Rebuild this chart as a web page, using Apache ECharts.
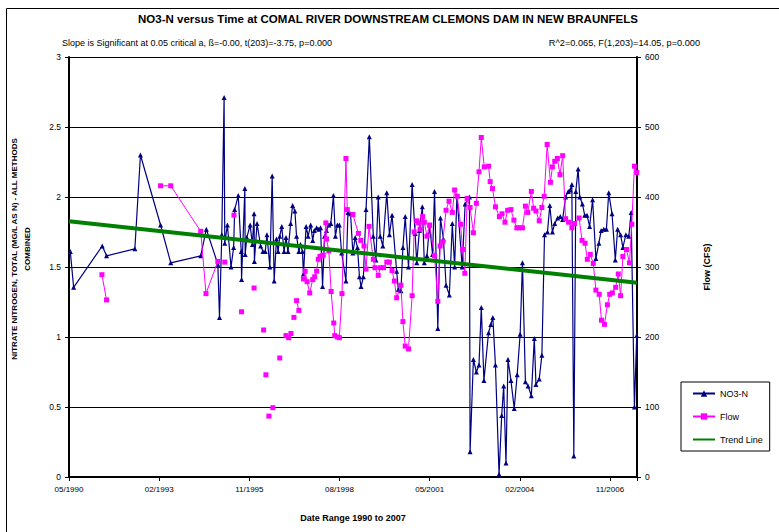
<!DOCTYPE html>
<html><head><meta charset="utf-8">
<script src="https://cdn.jsdelivr.net/npm/echarts@6/dist/echarts.min.js"></script>
<style>html,body{margin:0;padding:0;background:#fff}#c{width:779px;height:532px}</style>
</head><body><div id="c"></div>
<script>
// ---- data (dates as decimal years) ----
const no3Years = [1990.44,1990.54,1991.41,1991.54,1992.40,1992.57,1993.18,1993.49,1994.40,1994.57,
1994.92,1994.97,1995.04,1995.11,1995.13,1995.21,1995.32,1995.40,1995.43,1995.54,
1995.63,1995.64,1995.74,1995.75,1995.80,1995.90,1995.97,1996.02,1996.03,1996.11,
1996.22,1996.29,1996.36,1996.41,1996.50,1996.57,1996.63,1996.70,1996.75,1996.80,
1996.86,1996.93,1996.99,1997.05,1997.13,1997.19,1997.26,1997.31,1997.38,1997.43,
1997.49,1997.52,1997.60,1997.66,1997.74,1997.80,1997.85,1997.92,1997.98,1998.04,
1998.10,1998.16,1998.22,1998.29,1998.35,1998.43,1998.49,1998.55,1998.61,1998.68,
1998.81,1998.87,1998.95,1999.02,1999.09,1999.16,1999.22,1999.27,1999.34,1999.42,
1999.52,1999.64,1999.72,1999.79,1999.85,1999.93,2000.05,2000.13,2000.21,2000.35,
2000.40,2000.48,2000.54,2000.61,2000.71,2000.82,2000.91,2000.96,2001.04,2001.13,
2001.19,2001.27,2001.35,2001.44,2001.50,2001.60,2001.68,2001.77,2001.85,2001.95,
2002.04,2002.11,2002.18,2002.34,2002.43,2002.56,2002.58,2002.68,2002.77,2002.85,
2002.92,2003.00,2003.14,2003.21,2003.27,2003.35,2003.46,2003.54,2003.60,2003.67,
2003.73,2003.82,2003.92,2004.01,2004.10,2004.17,2004.26,2004.34,2004.44,2004.53,
2004.58,2004.68,2004.76,2004.84,2004.93,2005.00,2005.08,2005.15,2005.24,2005.32,
2005.39,2005.48,2005.56,2005.62,2005.67,2005.73,2005.79,2005.86,2005.91,2005.99,
2006.06,2006.13,2006.21,2006.30,2006.40,2006.49,2006.56,2006.64,2006.72,2006.79,
2006.89,2006.99,2007.06,2007.15,2007.22,2007.31,2007.40,2007.47,2007.57,2007.64];
const no3Values = [1.61,1.355,1.65,1.58,1.63,2.30,1.80,1.53,1.58,1.77,
1.52,1.14,1.73,2.71,1.67,1.80,1.50,1.64,1.91,2.01,
1.61,1.41,2.06,1.59,1.71,1.80,1.66,1.88,1.54,1.81,
1.65,1.61,1.61,1.73,1.50,2.15,1.40,1.70,1.61,1.72,
1.79,1.61,1.71,1.61,1.81,1.94,1.90,1.72,1.61,1.66,
1.61,1.45,1.79,1.72,1.80,1.69,1.76,1.78,1.77,1.78,
1.36,1.72,1.76,1.80,1.81,2.01,1.72,1.80,1.80,1.60,
1.40,1.89,1.88,1.60,1.71,1.64,1.43,1.36,1.43,1.91,
2.43,1.72,1.55,2.00,1.72,1.65,2.03,1.73,1.87,1.47,
1.34,1.33,1.64,1.86,1.50,2.09,1.74,1.53,1.76,1.93,
1.53,1.58,1.80,1.59,2.04,1.06,1.85,1.70,1.37,1.30,
1.81,1.50,2.01,1.50,1.95,2.00,0.18,0.84,0.75,0.80,
1.21,0.69,1.03,1.09,1.14,0.80,0.02,0.44,0.65,0.10,
0.84,0.69,0.49,0.73,1.02,1.53,0.68,0.65,0.58,0.99,
0.66,0.70,0.87,1.73,1.75,1.94,1.75,1.81,1.85,1.86,
1.84,2.00,2.04,2.05,2.09,0.15,2.04,2.20,2.00,1.95,
1.87,1.87,1.79,1.98,1.56,1.67,1.76,1.77,1.77,2.03,
1.88,1.55,1.77,1.73,1.64,1.73,1.72,1.89,0.50,1.01];

// null = break in the Flow line
const flowYears = [1991.40,1991.54,null,1993.18,1993.49,1994.40,1994.56,1994.92,null,1995.13,null,
1995.41,null,1995.64,null,1996.02,null,1996.31,null,1996.38,null,1996.47,null,1996.59,null,
1996.80,null,1996.99,1997.07,1997.14,null,1997.23,null,1997.31,1997.38,null,
1997.52,1997.57,1997.63,1997.71,1997.80,1997.86,1997.92,1997.97,1998.02,1998.08,
1998.12,1998.20,1998.22,1998.29,1998.36,1998.44,1998.47,1998.55,1998.61,1998.69,
1998.81,1998.85,1999.02,1999.19,1999.26,1999.36,1999.42,1999.51,1999.64,1999.69,
1999.79,1999.85,1999.95,2000.05,2000.13,2000.21,2000.28,2000.35,2000.48,2000.54,
2000.61,2000.71,2000.82,2000.88,2000.96,2001.02,2001.06,2001.14,2001.19,2001.27,
2001.35,2001.50,2001.60,2001.67,2001.75,2001.85,2001.94,2002.04,2002.11,2002.19,
2002.29,2002.35,2002.42,2002.49,2002.58,2002.68,2002.77,2002.85,2002.92,2003.01,
2003.14,2003.19,2003.26,2003.35,2003.47,2003.55,2003.64,2003.72,2003.82,2003.91,
2004.00,2004.07,2004.17,2004.26,2004.33,2004.44,2004.51,2004.58,2004.68,2004.76,
2004.83,2004.92,2005.02,2005.08,2005.15,2005.23,2005.31,2005.39,2005.48,2005.57,
2005.67,2005.75,2005.89,2005.98,2006.07,2006.14,2006.23,2006.32,2006.40,2006.50,
2006.57,2006.66,2006.75,2006.82,2006.90,2007.00,2007.08,2007.15,2007.22,2007.33,
2007.42,2007.49,2007.57,2007.64];
const flowValues = [289,253,null,416,416,351,262,308,null,307,null,
374,null,236,null,270,null,210,null,146,null,87,null,99,null,
170,null,202,199,205,null,228,null,252,238,null,
283,294,279,263,282,286,294,311,315,316,
317,363,340,323,265,220,202,200,199,262,
455,382,375,348,338,330,297,358,311,299,
288,299,299,307,307,295,280,256,274,222,
187,183,259,350,366,363,354,372,364,344,
360,316,251,330,336,381,394,378,410,401,
361,325,291,398,385,349,391,436,485,443,
444,422,412,386,372,376,364,381,382,367,
356,356,356,387,378,408,384,380,366,385,
401,475,421,443,451,455,432,459,369,364,
356,362,370,338,334,311,318,305,267,261,
224,218,246,261,263,271,290,259,315,325,
306,361,444,435];

const trendYears = [1990.40, 2007.648];
const trendValues = [1.827, 1.387];

const xTickLabels = ['05/1990','02/1993','11/1995','08/1998','05/2001','02/2004','11/2006'];
const leftTicks = {min: 0, max: 3, step: 0.5};
const rightTicks = {min: 0, max: 600, step: 100};

// ---- conversion: decimal year -> days since the axis origin (27 May 1990) ----
const ORIGIN_YEAR = 1990.4, DAYS_PER_YEAR = 365.25, X_STEP = 1000, X_MAX = 6300;
const toDay = y => (y - ORIGIN_YEAR) * DAYS_PER_YEAR;
const pairs = (xs, vs) => xs.map((y, i) => (y === null || vs[i] === null) ? [null, null] : [toDay(y), vs[i]]);

const FONT = '"Liberation Sans", Arial, Helvetica, sans-serif';
const chart = echarts.init(document.getElementById('c'), null, {renderer: 'svg', width: 779, height: 532});

chart.setOption({
  animation: false,
  backgroundColor: '#fff',
  textStyle: {fontFamily: FONT, color: '#000'},
  title: {
    text: 'NO3-N versus Time at COMAL RIVER DOWNSTREAM CLEMONS DAM IN NEW BRAUNFELS',
    left: 383, top: 8, textAlign: 'center',
    textStyle: {fontFamily: FONT, fontSize: 11.5, fontWeight: 'bold', color: '#000'}
  },
  grid: {left: 69, right: 142, top: 57, bottom: 55, containLabel: false},
  legend: {
    orient: 'vertical', left: 681, top: 382,
    padding: [7, 7, 7, 11], itemGap: 14, itemWidth: 22, itemHeight: 8,
    borderColor: '#000', borderWidth: 1, backgroundColor: '#fff',
    textStyle: {fontFamily: FONT, fontSize: 9, color: '#000', lineHeight: 8},
    data: ['NO3-N', 'Flow', {name: 'Trend Line', itemStyle: {opacity: 0}}]
  },
  xAxis: {
    type: 'value', min: 0, max: X_MAX, interval: X_STEP,
    axisLine: {lineStyle: {color: '#000', width: 2}},
    axisTick: {length: 4, lineStyle: {color: '#000'}},
    axisLabel: {
      color: '#000', fontSize: 8, fontFamily: FONT, margin: 8,
      formatter: v => (v % X_STEP === 0 && xTickLabels[v / X_STEP] !== undefined) ? xTickLabels[v / X_STEP] : ''
    },
    splitLine: {show: false}
  },
  yAxis: [{
    type: 'value', min: leftTicks.min, max: leftTicks.max, interval: leftTicks.step,
    axisLine: {show: true, lineStyle: {color: '#000', width: 2}},
    axisTick: {show: true, length: 4, lineStyle: {color: '#000'}},
    axisLabel: {color: '#000', fontSize: 8.5, fontFamily: FONT, margin: 8},
    splitLine: {show: true, lineStyle: {color: '#000', width: 1}}
  }, {
    type: 'value', position: 'right', min: rightTicks.min, max: rightTicks.max, interval: rightTicks.step,
    axisLine: {show: true, lineStyle: {color: '#000', width: 2}},
    axisTick: {show: true, length: 4, lineStyle: {color: '#000'}},
    axisLabel: {color: '#000', fontSize: 8.5, fontFamily: FONT, margin: 8},
    splitLine: {show: false}
  }],
  series: [{
    name: 'NO3-N', type: 'line', yAxisIndex: 0,
    data: pairs(no3Years, no3Values),
    symbol: 'triangle', symbolSize: 5, showSymbol: true,
    lineStyle: {color: '#000080', width: 1.2},
    itemStyle: {color: '#000080'},
    z: 2
  }, {
    name: 'Flow', type: 'line', yAxisIndex: 1,
    data: pairs(flowYears, flowValues), connectNulls: false,
    symbol: 'rect', symbolSize: 5, showSymbol: true,
    lineStyle: {color: '#FF00FF', width: 1},
    itemStyle: {color: '#FF00FF'},
    z: 3
  }, {
    name: 'Trend Line', type: 'line', yAxisIndex: 0,
    data: pairs(trendYears, trendValues),
    symbol: 'none',
    lineStyle: {color: '#008000', width: 4},
    itemStyle: {color: '#008000'},
    z: 4
  }],
  graphic: [
    {type: 'rect', silent: true, z: -10, shape: {x: 6.5, y: 8.5, width: 800, height: 600},
     style: {fill: 'none', stroke: '#000', lineWidth: 1}},
    {type: 'text', x: 62, y: 43, style: {text: 'Slope is Significant at 0.05 critical a, ß=-0.00, t(203)=-3.75, p=0.000',
     fontFamily: FONT, fontSize: 9, fill: '#000', textAlign: 'left', textVerticalAlign: 'middle', align: 'left', verticalAlign: 'middle'}},
    {type: 'text', x: 700, y: 43, style: {text: 'R^2=0.065, F(1,203)=14.05, p=0.000',
     fontFamily: FONT, fontSize: 9.2, fill: '#000', textAlign: 'right', textVerticalAlign: 'middle', align: 'right', verticalAlign: 'middle'}},
    {type: 'text', x: 21, y: 249, rotation: Math.PI / 2, style: {text: 'NITRATE NITROGEN, TOTAL (MG/L AS N) - ALL METHODS\nCOMBINED',
     fontFamily: FONT, fontSize: 8, fontWeight: 'bold', lineHeight: 13, fill: '#000', textAlign: 'center', textVerticalAlign: 'middle', align: 'center', verticalAlign: 'middle'}},
    {type: 'text', x: 707, y: 267, rotation: Math.PI / 2, style: {text: 'Flow (CFS)',
     fontFamily: FONT, fontSize: 9, fontWeight: 'bold', fill: '#000', textAlign: 'center', textVerticalAlign: 'middle', align: 'center', verticalAlign: 'middle'}},
    {type: 'text', x: 353, y: 518, style: {text: 'Date Range 1990 to 2007',
     fontFamily: FONT, fontSize: 9, fontWeight: 'bold', fill: '#000', textAlign: 'center', textVerticalAlign: 'middle', align: 'center', verticalAlign: 'middle'}}
  ]
});
</script></body></html>
